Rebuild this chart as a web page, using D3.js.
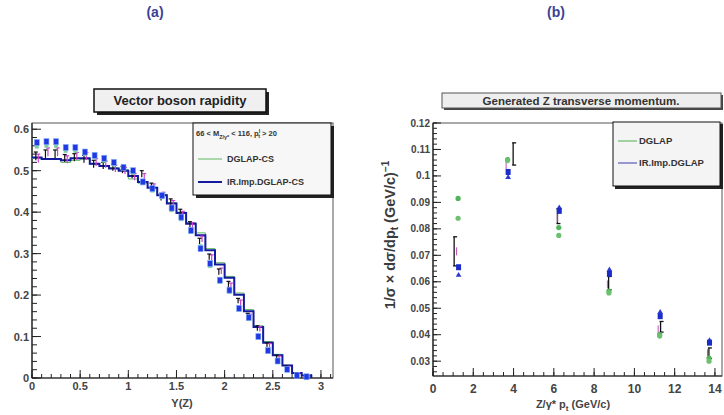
<!DOCTYPE html>
<html>
<head>
<meta charset="utf-8">
<script src="https://cdn.jsdelivr.net/npm/d3@7"></script>
<style>
body { margin: 0; background: #fff; }
text { font-family: "Liberation Sans", Arial, sans-serif; }
</style>
</head>
<body>
<div id="myDiv"></div>
<script>
// ---- panel (a): rapidity ----
var rapCenters = [0.05,0.15,0.25,0.35,0.45,0.55,0.65,0.75,0.85,0.95,1.05,1.15,1.25,1.35,1.45,1.55,1.65,1.75,1.85,1.95,2.05,2.15,2.25,2.35,2.45,2.55,2.65,2.75,2.85];
var rapIR    = [0.532,0.528,0.528,0.525,0.530,0.530,0.517,0.511,0.505,0.500,0.487,0.473,0.459,0.441,0.421,0.398,0.372,0.344,0.308,0.274,0.242,0.201,0.161,0.123,0.085,0.055,0.030,0.012,0.006];
var rapDGLAP = [0.530,0.527,0.527,0.520,0.525,0.528,0.515,0.512,0.507,0.503,0.480,0.470,0.460,0.443,0.423,0.400,0.375,0.350,0.312,0.278,0.245,0.205,0.165,0.126,0.088,0.057,0.031,0.013,0.006];
var rapSquares = [0.568,0.570,0.570,0.556,0.556,0.545,0.537,0.530,0.520,0.508,0.500,0.473,0.457,0.440,0.410,0.388,0.356,0.312,0.276,0.236,0.212,0.168,0.146,0.100,0.066,0.041,0.021,0.006,0.003];
var rapGreenPts = [0.558,0.560,0.560,0.548,0.548,0.540,0.532,0.524,0.515,0.510,0.495,0.470,0.452,0.436,0.405,0.383,0.352,0.318,0.270,0.232,0.208,0.165,0.142,0.098,0.064,0.040,0.020,0.006,0.003];
var rapBlack = [0.535,0.540,0.540,0.530,0.532,0.528,0.516,0.512,0.508,0.502,0.490,0.492,0.462,0.436,0.424,0.400,0.370,0.330,0.292,0.256,0.226,0.186,0.150,0.120,0.080,0.050,0.025,0.010,0.004];
var rapMagenta = [0.530,0.545,0.545,0.527,0.535,0.535,0.520,0.515,0.505,0.500,0.485,0.485,0.460,0.440,0.420,0.395,0.368,0.335,0.290,0.258,0.222,0.182,0.148,0.118,0.078,0.048,0.024,0.010,0.004];
var rapErr = [0.010,0.010,0.010,0.009,0.009,0.009,0.009,0.008,0.008,0.008,0.008,0.008,0.008,0.008,0.008,0.007,0.007,0.007,0.007,0.007,0.007,0.006,0.006,0.006,0.005,0.005,0.004,0.003,0.002];
var rapYTicks = [0, 0.1, 0.2, 0.3, 0.4, 0.5, 0.6];
var rapXTicks = [0, 0.5, 1, 1.5, 2, 2.5, 3];

// ---- panel (b): transverse momentum ----
var ptCenters = [1.27, 3.73, 6.27, 8.76, 11.28, 13.73];
var ptGreen1  = [0.0915, 0.1062, 0.0805, 0.0565, 0.0400, 0.0312];
var ptGreen2  = [0.0840, 0.1058, 0.0775, 0.0558, 0.0395, 0.0300];
var ptBlueSq  = [0.0655, 0.1015, 0.0868, 0.0630, 0.0470, 0.0370];
var ptBlueTri = [0.0625, 0.0995, 0.0880, 0.0645, 0.0485, 0.0378];
var ptBlackX  = [1.05, 3.98, 6.18, 8.72, 11.30, 13.70];
var ptBlack   = [0.0715, 0.1083, 0.0848, 0.0595, 0.0430, 0.0330];
var ptBlackErr= [0.0055, 0.0042, 0.0028, 0.0025, 0.0020, 0.0020];
var ptMagenta = [0.0715, 0.1040, 0.0840, 0.0590, 0.0420, 0.0330];
var ptYTicks = [0.03, 0.04, 0.05, 0.06, 0.07, 0.08, 0.09, 0.1, 0.11, 0.12];
var ptXTicks = [0, 2, 4, 6, 8, 10, 12, 14];

var svg = d3.select("#myDiv").append("svg")
    .attr("width", 724)
    .attr("height", 415);

svg.append("text").attr("x", 155).attr("y", 17).attr("text-anchor", "middle")
    .attr("font-size", 14).attr("font-weight", "bold").attr("fill", "#3b3f96").text("(a)");
svg.append("text").attr("x", 556).attr("y", 17).attr("text-anchor", "middle")
    .attr("font-size", 14).attr("font-weight", "bold").attr("fill", "#3b3f96").text("(b)");

// ===================== panel (a) =====================
var xL = d3.scaleLinear().domain([0, 3.125]).range([32, 333]);
var yL = d3.scaleLinear().domain([0, 0.615]).range([378, 123]);

var gA = svg.append("g");

// frame
gA.append("rect").attr("x", xL(0)).attr("y", yL(0.615))
    .attr("width", xL(3.125) - xL(0)).attr("height", yL(0) - yL(0.615))
    .attr("fill", "none").attr("stroke", "#555").attr("stroke-width", 1);

// minor + major ticks y
var yMinorL = d3.range(0, 0.6001, 0.02);
gA.selectAll(".ymin").data(yMinorL).enter().append("line")
    .attr("x1", xL(0)).attr("x2", xL(0) + 5)
    .attr("y1", function(d){ return yL(d); }).attr("y2", function(d){ return yL(d); })
    .attr("stroke", "#222");
gA.selectAll(".ymaj").data(rapYTicks).enter().append("line")
    .attr("x1", xL(0)).attr("x2", xL(0) + 9)
    .attr("y1", function(d){ return yL(d); }).attr("y2", function(d){ return yL(d); })
    .attr("stroke", "#222");
gA.selectAll(".ylab").data(rapYTicks).enter().append("text")
    .attr("x", 29).attr("y", function(d){ return yL(d) + 4; })
    .attr("text-anchor", "end").attr("font-size", 11).attr("font-weight", "bold").attr("fill", "#444")
    .text(function(d){ return String(d); });

// x ticks
var xMinorL = d3.range(0, 3.1001, 0.1);
gA.selectAll(".xmin").data(xMinorL).enter().append("line")
    .attr("x1", function(d){ return xL(d); }).attr("x2", function(d){ return xL(d); })
    .attr("y1", yL(0)).attr("y2", yL(0) - 4)
    .attr("stroke", "#222");
gA.selectAll(".xmaj").data(rapXTicks).enter().append("line")
    .attr("x1", function(d){ return xL(d); }).attr("x2", function(d){ return xL(d); })
    .attr("y1", yL(0)).attr("y2", yL(0) - 8)
    .attr("stroke", "#222");
gA.selectAll(".xlab").data(rapXTicks).enter().append("text")
    .attr("x", function(d){ return xL(d); }).attr("y", 390)
    .attr("text-anchor", "middle").attr("font-size", 11).attr("font-weight", "bold").attr("fill", "#444")
    .text(function(d){ return String(d); });
gA.append("line").attr("x1", xL(0)).attr("x2", xL(3.125)).attr("y1", yL(0)).attr("y2", yL(0))
    .attr("stroke", "#222").attr("stroke-width", 1.2);
gA.append("line").attr("x1", xL(0)).attr("x2", xL(0)).attr("y1", yL(0)).attr("y2", yL(0.615))
    .attr("stroke", "#222").attr("stroke-width", 1.2);

gA.append("text").attr("x", 182).attr("y", 407).attr("text-anchor", "middle")
    .attr("font-size", 11).attr("font-weight", "bold").attr("fill", "#444").text("Y(Z)");

// histogram steps
function stepPath(vals, sx, sy) {
    var pts = [];
    vals.forEach(function(v, i){
        pts.push([sx(rapCenters[i] - 0.05), sy(v)]);
        pts.push([sx(rapCenters[i] + 0.05), sy(v)]);
    });
    pts.push([sx(rapCenters[rapCenters.length - 1] + 0.05), sy(0)]);
    return d3.line()(pts);
}
gA.append("path").attr("d", stepPath(rapDGLAP, xL, yL))
    .attr("fill", "none").attr("stroke", "#5cb860").attr("stroke-width", 1);
gA.append("path").attr("d", stepPath(rapIR, xL, yL))
    .attr("fill", "none").attr("stroke", "#141a9e").attr("stroke-width", 2);

// error bars
function errBars(g, xs, vals, errs, sx, sy, dx, color) {
    var sel = g.append("g");
    sel.selectAll("line.v").data(vals).enter().append("line")
        .attr("x1", function(d, i){ return sx(xs[i]) + dx; })
        .attr("x2", function(d, i){ return sx(xs[i]) + dx; })
        .attr("y1", function(d, i){ return sy(d - errs[i]); })
        .attr("y2", function(d, i){ return sy(d + errs[i]); })
        .attr("stroke", color).attr("stroke-width", 1.2);
    sel.selectAll("line.c").data(vals).enter().append("line")
        .attr("x1", function(d, i){ return sx(xs[i]) + dx - 2; })
        .attr("x2", function(d, i){ return sx(xs[i]) + dx + 2; })
        .attr("y1", function(d, i){ return sy(d + errs[i]); })
        .attr("y2", function(d, i){ return sy(d + errs[i]); })
        .attr("stroke", color).attr("stroke-width", 1.2);
}
errBars(gA, rapCenters, rapMagenta, rapErr, xL, yL, 1.5, "#d040d0");
errBars(gA, rapCenters, rapBlack, rapErr, xL, yL, -1, "#111");

// markers
gA.selectAll(".gpt").data(rapGreenPts).enter().append("rect")
    .attr("x", function(d, i){ return xL(rapCenters[i]) - 2; })
    .attr("y", function(d){ return yL(d) - 2; })
    .attr("width", 4).attr("height", 4)
    .attr("fill", "#7fd0a0");
gA.selectAll(".bsq").data(rapSquares).enter().append("rect")
    .attr("x", function(d, i){ return xL(rapCenters[i]) - 2.5; })
    .attr("y", function(d){ return yL(d) - 3; })
    .attr("width", 5).attr("height", 6)
    .attr("fill", "#2238e0").attr("stroke", "#7fb0ff").attr("stroke-width", 0.6);

// title box (a)
gA.append("rect").attr("x", 97).attr("y", 92).attr("width", 172).attr("height", 23).attr("fill", "#222");
gA.append("rect").attr("x", 94).attr("y", 89).attr("width", 172).attr("height", 23)
    .attr("fill", "#f0f0f0").attr("stroke", "#111").attr("stroke-width", 1.5);
gA.append("text").attr("x", 180).attr("y", 105).attr("text-anchor", "middle")
    .attr("font-size", 13).attr("font-weight", "bold").attr("fill", "#222").text("Vector boson rapidity");

// legend (a)
gA.append("rect").attr("x", 196).attr("y", 126).attr("width", 138).attr("height", 72).attr("fill", "#222");
gA.append("rect").attr("x", 193).attr("y", 123).attr("width", 138).attr("height", 72)
    .attr("fill", "#f7f7f7").attr("stroke", "#111").attr("stroke-width", 1);
var lt = gA.append("text").attr("x", 196).attr("y", 136).attr("font-size", 7.5)
    .attr("font-weight", "bold").attr("fill", "#333");
lt.append("tspan").text("66 < M");
lt.append("tspan").attr("dy", 2.5).attr("font-size", 5.5).text("Z/\u03b3*");
lt.append("tspan").attr("dy", -2.5).text(" < 116, p");
lt.append("tspan").attr("dy", -3).attr("font-size", 5.5).text("l");
lt.append("tspan").attr("dx", -2).attr("dy", 5).attr("font-size", 5.5).text("t");
lt.append("tspan").attr("dy", -2).text(" > 20");
gA.append("line").attr("x1", 198).attr("x2", 222).attr("y1", 159).attr("y2", 159)
    .attr("stroke", "#5cb860").attr("stroke-width", 1);
gA.append("text").attr("x", 227).attr("y", 162).attr("font-size", 9).attr("font-weight", "bold")
    .attr("fill", "#333").text("DGLAP-CS");
gA.append("line").attr("x1", 198).attr("x2", 222).attr("y1", 182).attr("y2", 182)
    .attr("stroke", "#141a9e").attr("stroke-width", 2);
gA.append("text").attr("x", 227).attr("y", 185).attr("font-size", 9).attr("font-weight", "bold")
    .attr("fill", "#333").text("IR.Imp.DGLAP-CS");

// ===================== panel (b) =====================
var xR = d3.scaleLinear().domain([0, 14.35]).range([433, 722]);
var yR = d3.scaleLinear().domain([0.0244, 0.12]).range([376, 123]);

var gB = svg.append("g");

gB.append("rect").attr("x", xR(0)).attr("y", yR(0.12))
    .attr("width", xR(14.35) - xR(0)).attr("height", yR(0.0244) - yR(0.12))
    .attr("fill", "none").attr("stroke", "#555").attr("stroke-width", 1);

var yMinorR = d3.range(0.026, 0.1201, 0.002);
gB.selectAll(".ymin").data(yMinorR).enter().append("line")
    .attr("x1", xR(0)).attr("x2", xR(0) + 4)
    .attr("y1", function(d){ return yR(d); }).attr("y2", function(d){ return yR(d); })
    .attr("stroke", "#222");
gB.selectAll(".ymaj").data(ptYTicks).enter().append("line")
    .attr("x1", xR(0)).attr("x2", xR(0) + 8)
    .attr("y1", function(d){ return yR(d); }).attr("y2", function(d){ return yR(d); })
    .attr("stroke", "#222");
gB.selectAll(".ylab").data(ptYTicks).enter().append("text")
    .attr("x", 430).attr("y", function(d){ return yR(d) + 3.5; })
    .attr("text-anchor", "end").attr("font-size", 10).attr("font-weight", "bold").attr("fill", "#444")
    .text(function(d){ return String(d); });

var xMinorR = d3.range(0, 14.01, 0.5);
gB.selectAll(".xmin").data(xMinorR).enter().append("line")
    .attr("x1", function(d){ return xR(d); }).attr("x2", function(d){ return xR(d); })
    .attr("y1", yR(0.0244)).attr("y2", yR(0.0244) - 4)
    .attr("stroke", "#222");
gB.selectAll(".xmaj").data(ptXTicks).enter().append("line")
    .attr("x1", function(d){ return xR(d); }).attr("x2", function(d){ return xR(d); })
    .attr("y1", yR(0.0244)).attr("y2", yR(0.0244) - 8)
    .attr("stroke", "#222");
gB.selectAll(".xlab").data(ptXTicks).enter().append("text")
    .attr("x", function(d){ return xR(d); }).attr("y", 393)
    .attr("text-anchor", "middle").attr("font-size", 12).attr("font-weight", "bold").attr("fill", "#444")
    .text(function(d){ return String(d); });
gB.append("line").attr("x1", xR(0)).attr("x2", xR(14.35)).attr("y1", yR(0.0244)).attr("y2", yR(0.0244))
    .attr("stroke", "#222").attr("stroke-width", 1.2);
gB.append("line").attr("x1", xR(0)).attr("x2", xR(0)).attr("y1", yR(0.0244)).attr("y2", yR(0.12))
    .attr("stroke", "#222").attr("stroke-width", 1.2);

var xt = gB.append("text").attr("x", 573).attr("y", 408).attr("text-anchor", "middle")
    .attr("font-size", 11).attr("font-weight", "bold").attr("fill", "#444");
xt.append("tspan").text("Z/\u03b3* p");
xt.append("tspan").attr("dy", 3).attr("font-size", 8).text("t");
xt.append("tspan").attr("dy", -3).text(" (GeV/c)");

var yt = gB.append("text").attr("transform", "translate(395,235) rotate(-90)")
    .attr("text-anchor", "middle").attr("font-size", 14.5).attr("font-weight", "bold").attr("fill", "#3a3a3a");
yt.append("tspan").text("1/\u03c3 \u00d7 d\u03c3/dp");
yt.append("tspan").attr("dy", 3).attr("font-size", 10).text("t");
yt.append("tspan").attr("dy", -3).text("  (GeV/c)");
yt.append("tspan").attr("dy", -6).attr("font-size", 10).text("\u22121");

// black error bars (bracket shape)
var gErr = gB.append("g");
gErr.selectAll("line.v").data(ptBlack).enter().append("line")
    .attr("x1", function(d, i){ return xR(ptBlackX[i]); })
    .attr("x2", function(d, i){ return xR(ptBlackX[i]); })
    .attr("y1", function(d, i){ return yR(d - ptBlackErr[i]); })
    .attr("y2", function(d, i){ return yR(d + ptBlackErr[i]); })
    .attr("stroke", "#111").attr("stroke-width", 1.3);
gErr.selectAll("line.t").data(ptBlack).enter().append("line")
    .attr("x1", function(d, i){ return xR(ptBlackX[i]) - 1; })
    .attr("x2", function(d, i){ return xR(ptBlackX[i]) + 3; })
    .attr("y1", function(d, i){ return yR(d + ptBlackErr[i]); })
    .attr("y2", function(d, i){ return yR(d + ptBlackErr[i]); })
    .attr("stroke", "#111").attr("stroke-width", 1.3);
gErr.selectAll("line.b").data(ptBlack).enter().append("line")
    .attr("x1", function(d, i){ return xR(ptBlackX[i]) - 1; })
    .attr("x2", function(d, i){ return xR(ptBlackX[i]) + 3; })
    .attr("y1", function(d, i){ return yR(d - ptBlackErr[i]); })
    .attr("y2", function(d, i){ return yR(d - ptBlackErr[i]); })
    .attr("stroke", "#111").attr("stroke-width", 1.3);

// magenta small marks
gB.selectAll(".mg").data(ptMagenta).enter().append("line")
    .attr("x1", function(d, i){ return xR(ptCenters[i]) - 2; })
    .attr("x2", function(d, i){ return xR(ptCenters[i]) - 2; })
    .attr("y1", function(d){ return yR(d) - 4; })
    .attr("y2", function(d){ return yR(d) + 4; })
    .attr("stroke", "#c050c0").attr("stroke-width", 1);

// green markers
gB.selectAll(".g1").data(ptGreen1).enter().append("circle")
    .attr("cx", function(d, i){ return xR(ptCenters[i]) - 0.5; })
    .attr("cy", function(d){ return yR(d); })
    .attr("r", 2.6).attr("fill", "#52b45a");
gB.selectAll(".g2").data(ptGreen2).enter().append("circle")
    .attr("cx", function(d, i){ return xR(ptCenters[i]) - 0.5; })
    .attr("cy", function(d){ return yR(d); })
    .attr("r", 2.6).attr("fill", "#6cc070");

// blue triangles and squares
gB.selectAll(".bt").data(ptBlueTri).enter().append("path")
    .attr("transform", function(d, i){ return "translate(" + xR(ptCenters[i]) + "," + yR(d) + ")"; })
    .attr("d", d3.symbol().type(d3.symbolTriangle).size(14))
    .attr("fill", "#2a3ad0");
gB.selectAll(".bs").data(ptBlueSq).enter().append("rect")
    .attr("x", function(d, i){ return xR(ptCenters[i]) - 2.5; })
    .attr("y", function(d){ return yR(d) - 3; })
    .attr("width", 5).attr("height", 6)
    .attr("fill", "#1c2cc8");

// title box (b)
gB.append("rect").attr("x", 444).attr("y", 95).attr("width", 279).attr("height", 15).attr("fill", "#444");
gB.append("rect").attr("x", 442).attr("y", 93).attr("width", 279).attr("height", 15)
    .attr("fill", "#eeeeee").attr("stroke", "#555").attr("stroke-width", 1);
gB.append("text").attr("x", 581).attr("y", 104.5).attr("text-anchor", "middle")
    .attr("font-size", 11.5).attr("font-weight", "bold").attr("fill", "#333")
    .text("Generated Z transverse momentum.");

// legend (b)
gB.append("rect").attr("x", 615).attr("y", 124).attr("width", 108).attr("height", 65).attr("fill", "#222");
gB.append("rect").attr("x", 613).attr("y", 122).attr("width", 107).attr("height", 64)
    .attr("fill", "#f4f4f4").attr("stroke", "#111").attr("stroke-width", 1);
gB.append("line").attr("x1", 618).attr("x2", 637).attr("y1", 141).attr("y2", 141)
    .attr("stroke", "#4caf50").attr("stroke-width", 1);
gB.append("text").attr("x", 639).attr("y", 144).attr("font-size", 9.5).attr("font-weight", "bold")
    .attr("fill", "#333").text("DGLAP");
gB.append("line").attr("x1", 618).attr("x2", 637).attr("y1", 163).attr("y2", 163)
    .attr("stroke", "#3a3ab0").attr("stroke-width", 1);
gB.append("text").attr("x", 639).attr("y", 166).attr("font-size", 9.5).attr("font-weight", "bold")
    .attr("fill", "#333").text("IR.Imp.DGLAP");
</script>
</body>
</html>
